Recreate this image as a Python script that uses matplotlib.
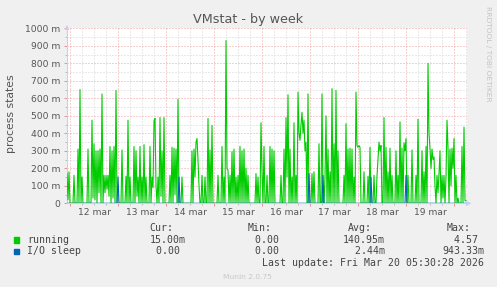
import matplotlib
matplotlib.use("Agg")
import matplotlib.pyplot as plt
from matplotlib.ticker import MultipleLocator, FixedLocator

# ---- data (30-minute samples, hours relative to 12 mar 00:00) ----
start_hour = -1.5
step_hour = 0.5

running = [
    170, 20, 180, 0, 0, 0, 0, 160, 0, 0, 0, 310, 0, 650, 0, 150, 0, 0, 0, 0,
    0, 310, 0, 0, 0, 475, 30, 340, 20, 300, 0, 300, 60, 310, 0, 625, 0, 160, 60, 160,
    80, 160, 40, 325, 0, 300, 30, 325, 0, 645, 0, 0, 0, 0, 0, 305, 0, 0, 0, 155,
    0, 475, 0, 150, 0, 0, 0, 325, 0, 300, 40, 150, 0, 325, 0, 150, 0, 335, 0, 150,
    0, 0, 0, 325, 0, 150, 90, 470, 485, 100, 0, 150, 0, 490, 40, 300, 0, 490, 0, 0,
    0, 0, 0, 160, 0, 320, 0, 315, 50, 310, 0, 595, 0, 0, 0, 150, 0, 0, 0, 0,
    0, 0, 0, 0, 0, 300, 0, 310, 150, 350, 370, 250, 100, 0, 0, 160, 0, 0, 150, 0,
    0, 485, 0, 305, 0, 445, 0, 0, 0, 0, 0, 160, 0, 0, 0, 325, 0, 150, 0, 930,
    200, 190, 0, 160, 0, 295, 0, 310, 0, 150, 0, 160, 0, 325, 0, 300, 0, 310, 0, 200,
    0, 160, 0, 0, 0, 0, 0, 0, 0, 170, 0, 150, 0, 0, 460, 180, 0, 325, 0, 0,
    160, 0, 0, 325, 0, 310, 0, 300, 0, 0, 0, 0, 0, 0, 160, 0, 0, 310, 0, 490,
    150, 620, 0, 310, 0, 150, 0, 460, 0, 160, 0, 635, 400, 360, 450, 520, 400, 475, 300, 350,
    0, 625, 0, 0, 0, 170, 0, 180, 0, 0, 0, 0, 340, 0, 0, 625, 0, 0, 150, 500,
    0, 310, 0, 180, 0, 655, 0, 340, 0, 645, 0, 300, 0, 0, 0, 0, 0, 160, 0, 455,
    0, 310, 0, 315, 0, 310, 0, 150, 0, 635, 330, 320, 330, 320, 0, 0, 0, 180, 0, 0,
    0, 155, 0, 320, 0, 0, 0, 160, 0, 0, 155, 250, 350, 300, 330, 0, 0, 490, 0, 320,
    0, 180, 0, 315, 0, 160, 0, 0, 0, 300, 0, 160, 0, 465, 0, 315, 0, 345, 300, 370,
    0, 160, 0, 0, 0, 305, 0, 0, 0, 160, 0, 480, 0, 0, 0, 300, 0, 180, 0, 325,
    0, 800, 400, 310, 200, 310, 250, 265, 100, 0, 160, 60, 170, 300, 0, 160, 30, 160, 0, 150,
    475, 320, 0, 310, 100, 315, 200, 370, 0, 160, 0, 30, 0, 0, 0, 325, 0, 435, 15, 15,
]

io_sleep = [
    0, 0, 0, 0, 0, 0, 0, 0, 0, 0, 0, 0, 0, 0, 0, 0, 0, 0, 0, 0,
    0, 0, 0, 0, 0, 0, 0, 0, 0, 0, 0, 0, 0, 0, 0, 0, 0, 0, 0, 0,
    0, 0, 0, 0, 0, 0, 0, 0, 0, 0, 0, 150, 0, 0, 0, 0, 0, 0, 0, 0,
    0, 0, 0, 0, 0, 0, 0, 0, 0, 0, 0, 0, 0, 0, 0, 0, 0, 0, 0, 0,
    0, 0, 0, 0, 0, 0, 0, 0, 0, 0, 0, 0, 0, 0, 0, 0, 0, 0, 0, 0,
    0, 0, 0, 0, 0, 0, 0, 0, 0, 0, 0, 0, 150, 0, 0, 0, 0, 0, 0, 0,
    0, 0, 0, 0, 0, 0, 0, 0, 0, 0, 0, 0, 0, 0, 0, 0, 0, 0, 0, 0,
    0, 0, 0, 0, 0, 0, 0, 0, 0, 0, 0, 0, 0, 0, 0, 0, 0, 0, 0, 0,
    0, 0, 0, 0, 0, 0, 0, 0, 0, 0, 0, 0, 0, 0, 0, 0, 0, 0, 0, 0,
    0, 0, 0, 0, 0, 0, 0, 0, 0, 0, 0, 0, 0, 0, 0, 0, 0, 0, 0, 0,
    0, 0, 0, 0, 0, 0, 0, 0, 0, 0, 0, 0, 0, 0, 0, 0, 0, 0, 0, 0,
    0, 0, 0, 0, 0, 0, 0, 0, 0, 0, 0, 0, 0, 0, 0, 0, 0, 0, 0, 0,
    0, 0, 170, 0, 0, 0, 0, 0, 0, 0, 0, 0, 0, 0, 0, 0, 160, 0, 0, 0,
    0, 0, 0, 0, 0, 0, 0, 0, 0, 0, 0, 0, 0, 0, 0, 0, 0, 0, 0, 0,
    0, 0, 0, 0, 0, 0, 0, 0, 0, 0, 0, 0, 0, 0, 0, 0, 0, 0, 0, 0,
    0, 0, 0, 0, 150, 0, 0, 0, 0, 0, 0, 0, 0, 0, 0, 0, 0, 0, 0, 0,
    0, 0, 0, 0, 0, 0, 0, 0, 0, 0, 0, 0, 0, 0, 0, 0, 0, 0, 0, 160,
    0, 0, 0, 0, 0, 0, 0, 0, 0, 0, 0, 0, 0, 0, 0, 0, 0, 0, 0, 0,
    0, 0, 0, 0, 0, 0, 0, 0, 0, 0, 0, 0, 0, 0, 0, 0, 0, 0, 0, 0,
    0, 0, 0, 0, 0, 0, 0, 0, 0, 0, 0, 0, 0, 0, 0, 0, 0, 0, 0, 0,
]

day_labels = ["12 mar", "13 mar", "14 mar", "15 mar", "16 mar", "17 mar", "18 mar", "19 mar"]
y_ticks = [0, 100, 200, 300, 400, 500, 600, 700, 800, 900, 1000]
y_labels = ["0", "100 m", "200 m", "300 m", "400 m", "500 m", "600 m", "700 m", "800 m", "900 m", "1000 m"]

series_names = ["running", "I/O sleep"]
series_colors = ["#00CC00", "#0066B3"]
cur_vals = ["15.00m", "  0.00 "]
min_vals = [" 0.00 ", " 0.00 "]
avg_vals = ["140.95m", "  2.44m"]
max_vals = ["  4.57 ", "943.33m"]

hours = [start_hour + step_hour * i for i in range(len(running))]

# ---- figure ----
W, H = 497, 287
fig = plt.figure(figsize=(W / 100, H / 100), dpi=100, facecolor="#F0F0F0")

def fx(px):
    return px / W

def fy(py):
    return 1 - py / H

ax = fig.add_axes([fx(67), fy(203.3), fx(400), 175 / H])
ax.set_facecolor("white")

ax.plot(hours, running, color=series_colors[0], lw=0.8, zorder=3)
ax.plot(hours, io_sleep, color=series_colors[1], lw=0.8, zorder=4)

ax.set_xlim(-1.5, 198.5)
ax.set_ylim(0, 1000)

ax.xaxis.set_major_locator(MultipleLocator(24))
ax.xaxis.set_minor_locator(MultipleLocator(6))
ax.yaxis.set_major_locator(FixedLocator(y_ticks))
ax.yaxis.set_minor_locator(MultipleLocator(50))
ax.set_yticklabels(y_labels)
ax.set_xticklabels([])

ax.grid(which="minor", color="#d4d4d4", linestyle=(0, (1, 2)), lw=0.72)
ax.grid(which="major", color="#f0a0a0", linestyle=(0, (1, 2)), lw=0.72)
ax.set_axisbelow(True)

for s in ["top", "right"]:
    ax.spines[s].set_visible(False)
for s in ["left", "bottom"]:
    ax.spines[s].set_color("#c8d0f2")
    ax.spines[s].set_linewidth(0.8)
    ax.spines[s].set_zorder(2)

ax.tick_params(axis="both", which="major", length=2, width=0.7, color="#e89090",
               labelsize=6.6, labelcolor="#555555", pad=3)
ax.tick_params(axis="both", which="minor", length=1.5, width=0.7, color="#bbbbbb")

# day labels at noon
for i, lab in enumerate(day_labels):
    ax.text(12 + 24 * i, -(212.7 - 203.3) / 175, lab, transform=ax.get_xaxis_transform(),
            ha="center", va="center", fontsize=6.6, color="#555555")

# axis arrows
ax.annotate("", xy=(0, 1.035), xytext=(0, 0.99), xycoords="axes fraction",
            arrowprops=dict(arrowstyle="-|>", color="#c8d0f2", lw=0.8, mutation_scale=6),
            annotation_clip=False)
ax.annotate("", xy=(1.018, 0), xytext=(0.99, 0), xycoords="axes fraction",
            arrowprops=dict(arrowstyle="-|>", color="#c8d0f2", lw=0.8, mutation_scale=6),
            annotation_clip=False)

# titles
fig.text(fx(248), fy(19.5), "VMstat - by week", ha="center", va="center",
         fontsize=9.2, color="#555555")
fig.text(fx(11.5), fy(114), "process states", rotation=90, ha="center", va="center",
         fontsize=7.8, color="#555555")
fig.text(fx(488), fy(6), "RRDTOOL / TOBI OETIKER", rotation=270, ha="center", va="top",
         fontsize=5.4, color="#c4c4c4")

# legend block
mono = "DejaVu Sans Mono"
lfs = 7.1
lc = "#444444"
fig.text(fx(149), fy(228.3), "Cur:", family=mono, fontsize=lfs, color=lc, va="center")
fig.text(fx(248), fy(228.3), "Min:", family=mono, fontsize=lfs, color=lc, va="center")
fig.text(fx(348), fy(228.3), "Avg:", family=mono, fontsize=lfs, color=lc, va="center")
fig.text(fx(447), fy(228.3), "Max:", family=mono, fontsize=lfs, color=lc, va="center")

row_y = [239.7, 251.3]
for k in range(2):
    y = row_y[k]
    fig.patches.append(plt.Rectangle((fx(13.5), fy(y + 2.8)), 5.5 / W, 5.5 / H,
                                     transform=fig.transFigure, color=series_colors[k]))
    fig.text(fx(27), fy(y), series_names[k], family=mono, fontsize=lfs, color=lc, va="center")
    fig.text(fx(150) if k == 0 else fx(144), fy(y), cur_vals[k],
             family=mono, fontsize=lfs, color=lc, va="center")
    fig.text(fx(249.2), fy(y), min_vals[k], family=mono, fontsize=lfs, color=lc, va="center")
    fig.text(fx(343), fy(y), avg_vals[k], family=mono, fontsize=lfs, color=lc, va="center")
    fig.text(fx(442), fy(y), max_vals[k], family=mono, fontsize=lfs, color=lc, va="center")

fig.text(fx(262), fy(263), "Last update: Fri Mar 20 05:30:28 2026", family=mono,
         fontsize=lfs, color=lc, va="center")
fig.text(fx(247.5), fy(276.7), "Munin 2.0.75", ha="center", va="center",
         fontsize=5.4, color="#c8c8c8")

fig.savefig("out.png", dpi=100, facecolor=fig.get_facecolor())
